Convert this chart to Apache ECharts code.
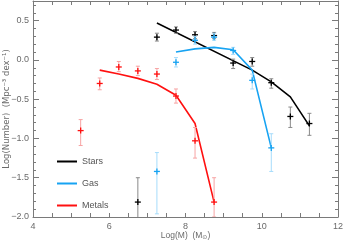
<!DOCTYPE html>
<html>
<head>
<meta charset="utf-8">
<script src="https://cdn.jsdelivr.net/npm/echarts@6/dist/echarts.min.js"></script>
<style>html,body{margin:0;padding:0;background:#fff}#c{width:343px;height:240px}</style>
</head>
<body>
<div id="c"></div>
<script>
// ---- data ----
const starsX  = [6.75, 7.25, 7.75, 8.25, 8.75, 9.25, 9.75, 10.25, 10.75, 11.25];
const starsY  = [-1.81, 0.29, 0.38, 0.32, 0.31, -0.04, -0.02, -0.29, -0.72, -0.81];
const starsLo = [-2.2, 0.24, 0.34, 0.27, 0.27, -0.11, -0.08, -0.36, -0.86, -0.96];
const starsHi = [-1.50, 0.34, 0.42, 0.36, 0.35, 0.01, 0.03, -0.24, -0.60, -0.68];

const gasX  = [7.25, 7.75, 8.25, 8.75, 9.25, 9.75, 10.25];
const gasY  = [-1.42, -0.03, 0.25, 0.29, 0.12, -0.26, -1.12];
const gasLo = [-1.96, -0.09, 0.20, 0.25, 0.07, -0.37, -1.42];
const gasHi = [-1.18, 0.03, 0.30, 0.34, 0.16, -0.18, -0.94];

const metX  = [5.25, 5.75, 6.25, 6.75, 7.25, 7.75, 8.25, 8.75];
const metY  = [-0.90, -0.30, -0.09, -0.14, -0.18, -0.46, -1.03, -1.81];
const metLo = [-1.09, -0.38, -0.15, -0.20, -0.25, -0.55, -1.25, -2.00];
const metHi = [-0.76, -0.23, -0.02, -0.08, -0.11, -0.37, -0.86, -1.50];

const starsModelX = [7.25, 9.75, 10.25, 10.75, 11.25];
const starsModelY = [0.47, -0.13, -0.28, -0.47, -0.84];
const gasModelX = [7.75, 8.25, 8.75, 9.25, 9.75, 10.25];
const gasModelY = [0.10, 0.14, 0.16, 0.13, -0.13, -1.12];
const metModelX = [5.75, 6.25, 6.75, 7.25, 7.75, 8.25, 8.75];
const metModelY = [-0.13, -0.18, -0.235, -0.31, -0.45, -0.81, -1.81];

const xTicks = [4, 6, 8, 10, 12];
const yTicks = [-2.0, -1.5, -1.0, -0.5, 0.0, 0.5];

const cBlack = '#000000', cBlue = '#17a3f2', cRed = '#ff1010';
const eBlack = '#8a8a8a', eBlue = '#a6dcfb', eRed = '#f7a3a3';

function zip(xs, ys) { return xs.map((x, i) => [x, ys[i]]); }

function errSeries(name, xs, ys, lo, hi, barCol, markCol) {
  return {
    type: 'custom', name: name, clip: true, z: 4,
    data: xs.map((x, i) => [x, ys[i], lo[i], hi[i]]),
    encode: { x: 0, y: [1, 2, 3] },
    renderItem: function (params, api) {
      const x = api.value(0);
      const p = api.coord([x, api.value(1)]);
      const pl = api.coord([x, api.value(2)]);
      const ph = api.coord([x, api.value(3)]);
      const cap = 2, m = 3;
      return {
        type: 'group', children: [
          { type: 'line', shape: { x1: p[0], y1: pl[1], x2: p[0], y2: ph[1] }, style: { stroke: barCol, lineWidth: 1 } },
          { type: 'line', shape: { x1: p[0] - cap, y1: pl[1], x2: p[0] + cap, y2: pl[1] }, style: { stroke: barCol, lineWidth: 1 } },
          { type: 'line', shape: { x1: p[0] - cap, y1: ph[1], x2: p[0] + cap, y2: ph[1] }, style: { stroke: barCol, lineWidth: 1 } },
          { type: 'line', shape: { x1: p[0] - m, y1: p[1], x2: p[0] + m, y2: p[1] }, style: { stroke: markCol, lineWidth: 1.3 } },
          { type: 'line', shape: { x1: p[0], y1: p[1] - m, x2: p[0], y2: p[1] + m }, style: { stroke: markCol, lineWidth: 1.3 } }
        ]
      };
    }
  };
}

function lineSeries(name, xs, ys, col) {
  return { type: 'line', name: name, data: zip(xs, ys), symbol: 'none', z: 3,
    lineStyle: { color: col, width: 1.6 }, itemStyle: { color: col } };
}

const axisCol = '#7a7a7a';
const font = 'Liberation Sans';
const fmtY = v => {
  if (!yTicks.some(t => Math.abs(t - v) < 1e-6)) return '';
  const s = Math.abs(v).toFixed(1);
  return (v < -1e-9 ? '\u2212' : '') + s;
};

const chart = echarts.init(document.getElementById('c'), null, { renderer: 'canvas' });
chart.setOption({
  animation: false,
  grid: { left: 33, right: 5, top: 1, bottom: 23, containLabel: false, outerBoundsMode: 'none' },
  xAxis: [
    { type: 'value', position: 'bottom', min: xTicks[0], max: xTicks[xTicks.length - 1], interval: 2,
      axisLine: { onZero: false, lineStyle: { color: axisCol, width: 1 } },
      axisTick: { inside: true, length: 4, lineStyle: { color: axisCol } },
      minorTick: { show: true, splitNumber: 4, length: 4, lineStyle: { color: axisCol } },
      splitLine: { show: false },
      axisLabel: { color: '#6a6a6a', fontSize: 9, fontFamily: font, margin: 5 },
      name: '{a|Log(M)  (M}{s|\u2299}{a|)}', nameLocation: 'middle', nameGap: 13.5, nameMoveOverlap: false,
      nameTextStyle: { rich: { a: { color: '#6a6a6a', fontSize: 8.5, fontFamily: font },
        s: { color: '#6a6a6a', fontSize: 6, fontFamily: 'DejaVu Sans', padding: [4, 0, 0, 0] } } } },
    { type: 'value', position: 'top', min: xTicks[0], max: xTicks[xTicks.length - 1], interval: 2,
      axisLine: { onZero: false, lineStyle: { color: axisCol, width: 1 } },
      axisTick: { inside: true, length: 4, lineStyle: { color: axisCol } },
      minorTick: { show: true, splitNumber: 4, length: 4, lineStyle: { color: axisCol } },
      splitLine: { show: false }, axisLabel: { show: false } }
  ],
  yAxis: [
    { type: 'value', position: 'left', min: -2, max: 0.75, interval: 0.5,
      axisLine: { show: true, onZero: false, lineStyle: { color: axisCol, width: 1 } },
      axisTick: { show: true, inside: true, length: 6, lineStyle: { color: axisCol } },
      splitLine: { show: false },
      axisLabel: { color: '#6a6a6a', fontSize: 9, fontFamily: font, margin: 4, formatter: fmtY,
        showMaxLabel: false },
      name: 'Log(Number)  (Mpc\u207B\u00B3 dex\u207B\u00B9)', nameLocation: 'middle', nameGap: 22, nameMoveOverlap: false,
      nameTextStyle: { color: '#6a6a6a', fontSize: 8.5, fontFamily: 'DejaVu Sans' } },
    { type: 'value', position: 'right', min: -2, max: 0.75, interval: 0.5,
      axisLine: { show: true, onZero: false, lineStyle: { color: axisCol, width: 1 } },
      axisTick: { show: true, inside: true, length: 6, lineStyle: { color: axisCol } },
      splitLine: { show: false }, axisLabel: { show: false } },
    { type: 'value', position: 'left', min: -2, max: 0.75, interval: 0.1,
      axisLine: { show: false, onZero: false }, axisTick: { show: true, inside: true, length: 3, lineStyle: { color: axisCol } },
      splitLine: { show: false }, axisLabel: { show: false } },
    { type: 'value', position: 'right', min: -2, max: 0.75, interval: 0.1,
      axisLine: { show: false, onZero: false }, axisTick: { show: true, inside: true, length: 3, lineStyle: { color: axisCol } },
      splitLine: { show: false }, axisLabel: { show: false } }
  ],
  legend: {
    orient: 'vertical', left: 52, top: 152, itemWidth: 20, itemHeight: 2, itemGap: 13,
    icon: 'rect', data: ['Stars', 'Gas', 'Metals'],
    textStyle: { color: '#555', fontSize: 9, fontFamily: font, padding: [0, 0, 0, 0] }
  },
  series: [
    errSeries('Stars data', starsX, starsY, starsLo, starsHi, eBlack, cBlack),
    errSeries('Gas data', gasX, gasY, gasLo, gasHi, eBlue, cBlue),
    errSeries('Metals data', metX, metY, metLo, metHi, eRed, cRed),
    lineSeries('Stars', starsModelX, starsModelY, cBlack),
    lineSeries('Gas', gasModelX, gasModelY, cBlue),
    lineSeries('Metals', metModelX, metModelY, cRed)
  ]
});
</script>
</body>
</html>
